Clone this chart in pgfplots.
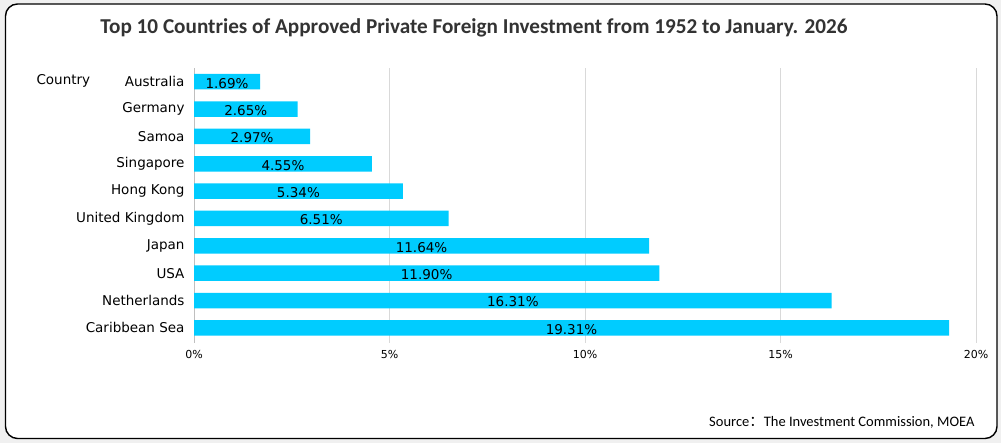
\documentclass[border=0pt]{standalone}
\usepackage{fontspec}
\setmainfont{DejaVu Sans}
\newfontfamily\titlefont{Carlito}
\newfontfamily\cjk{Noto Sans CJK SC}
\usepackage{pgfplots}
\usepackage{pgfplotstable}
\pgfplotsset{compat=1.18}
\definecolor{barc}{HTML}{00CCFF}
\definecolor{bgc}{HTML}{F0F0F0}
\definecolor{gridc}{HTML}{D9D9D9}
\definecolor{axc}{HTML}{BFBFBF}
\pgfplotstableread{
y v
0 19.31
1 16.31
2 11.90
3 11.64
4 6.51
5 5.34
6 4.55
7 2.97
8 2.65
9 1.69
}\datatbl
\begin{document}
\begin{tikzpicture}[x=1bp,y=1bp]
\useasboundingbox (0,0) rectangle (1001,443);
\fill[bgc] (0,0) rectangle (1001,443);
\draw[line width=1.4bp, fill=white, rounded corners=12bp] (5.5,4.5) rectangle (997,439);
\node[font=\titlefont\bfseries\fontsize{21.2bp}{25bp}\selectfont, text=black!80] at (474,415) {Top 10 Countries of Approved Private Foreign Investment from 1952 to January. 2026};
\node[anchor=west, font=\fontsize{13.5bp}{15bp}\selectfont] at (33,362) {Country};
\node[anchor=east, font=\titlefont\fontsize{14.5bp}{16bp}\selectfont] at (978,21) {Source{\cjk ：}The Investment Commission, MOEA};
\begin{axis}[
  at={(194bp,100bp)}, anchor=south west,
  scale only axis, width=782bp, height=275bp,
  xmin=0, xmax=20, ymin=-0.55, ymax=9.5,
  /pgf/number format/assume math mode=true,
  axis y line*=left, axis x line*=bottom,
  axis line style={-},
  x axis line style={draw=none},
  y axis line style={draw=axc, line width=0.8bp},
  xtick={0,5,10,15,20},
  xticklabel={\pgfmathprintnumber{\tick}\%},
  xmajorgrids, grid style={draw=gridc, line width=0.8bp},
  major tick length=0,
  ytick={0,...,9},
  yticklabels={Caribbean Sea,Netherlands,USA,Japan,United Kingdom,Hong Kong,Singapore,Samoa,Germany,Australia},
  yticklabel style={font=\fontsize{13.5bp}{15bp}\selectfont, xshift=-6bp},
  xticklabel style={font=\fontsize{11bp}{13bp}\selectfont, yshift=-4bp},
  clip=false,
]
\addplot[xbar, bar width=15.5bp, fill=barc, draw=none] table[x=v, y=y] {\datatbl};
\addplot[only marks, mark=none, nodes near coords={\pgfmathprintnumber[fixed,precision=2,fixed zerofill]{\pgfplotspointmeta}\%},
  point meta=explicit,
  every node near coord/.append style={anchor=center, yshift=-1.5bp, font=\fontsize{13.5bp}{15bp}\selectfont}]
  table[x expr=\thisrow{v}/2, y=y, meta=v] {\datatbl};
\end{axis}
\end{tikzpicture}
\end{document}
